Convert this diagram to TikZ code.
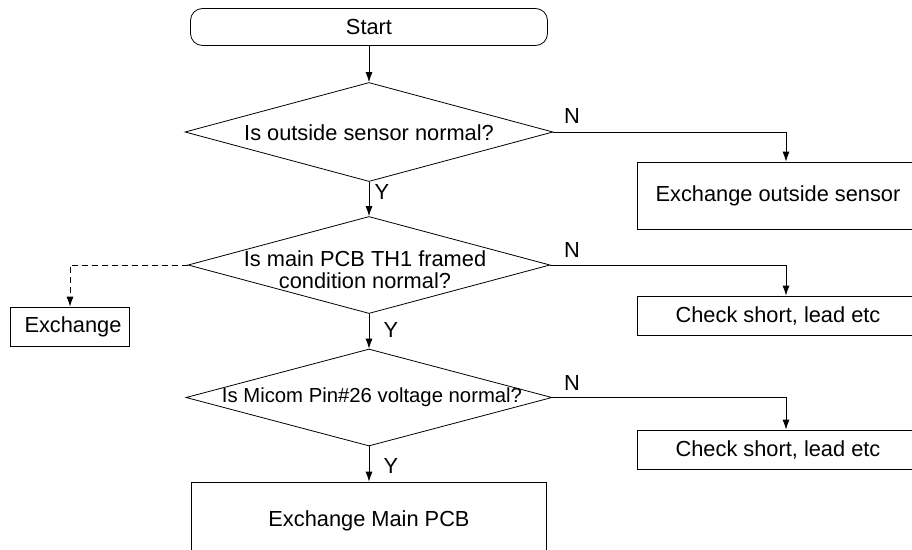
\documentclass[tikz,border=0pt]{standalone}
\usepackage{fontspec}
\setmainfont{Liberation Sans}
\usetikzlibrary{shapes.geometric,arrows.meta}

\tikzset{
  box/.style={draw, rectangle, minimum height=39pt, inner sep=0pt},
  decision/.style={draw, diamond, inner sep=0pt, minimum height=97pt},
  flow/.style={-{Latex[length=10pt,width=7pt]}},
}

\begin{document}
\begin{tikzpicture}[x=1pt,y=-1pt,line width=0.8pt,font=\fontsize{21.8}{22}\selectfont]
  \useasboundingbox (0,0) rectangle (912,549);
  \clip (0,0) rectangle (912,549);
  % blocks
  \node[draw,rounded corners=12pt,minimum width=357pt,minimum height=37pt] (start) at (369,27) {Start};
  \node[decision,minimum width=368pt,minimum height=99pt] (d1) at (369,132) {};
  \node (q1) at (369,133) {Is outside sensor normal?};
  \node[box,minimum width=282pt,minimum height=67pt] (out) at (778,195.5) {Exchange outside sensor};
  \node[decision,minimum width=362pt] (d2) at (369,265) {};
  \node[align=center] (q2) at (365,270) {Is main PCB TH1 framed\\condition normal?};
  \node[box,minimum width=282pt] (chk1) at (778,315.5) {Check short, lead etc};
  \node[box,minimum width=119pt] (exch) at (70,326.5) {\hspace{6pt}Exchange};
  \node[decision,minimum width=366pt] (d3) at (369,397.5) {};
  \node (q3) at (372,397) {\fontsize{20.3}{22}\selectfont Is Micom Pin\#26 voltage normal?};
  \node[box,minimum width=282pt] (chk2) at (778,449.5) {Check short, lead etc};
  \node[box,minimum width=355pt,minimum height=78pt] (pcb) at (369,521) {Exchange Main PCB};
  % answers
  \node (n1) at (572,116) {N};
  \node (n2) at (572,250) {N};
  \node (n3) at (572,383) {N};
  \node (y1) at (382,192) {Y};
  \node (y2) at (391,330) {Y};
  \node (y3) at (391,466) {Y};
  % connectors
  \begin{scope}[flow]
    \draw (start) -- (d1);
    \draw (d1) -- (d2);
    \draw (d2) -- (d3);
    \draw (d3) -- (pcb);
    \draw (d1.east) -| ([xshift=8]out.north);
    \draw (d2.east) -| ([xshift=8]chk1.north);
    \draw (d3.east) -| ([xshift=8]chk2.north);
    \draw[dash pattern=on 6pt off 4pt] (d2.west) -| (exch.north);
  \end{scope}
\end{tikzpicture}
\end{document}
